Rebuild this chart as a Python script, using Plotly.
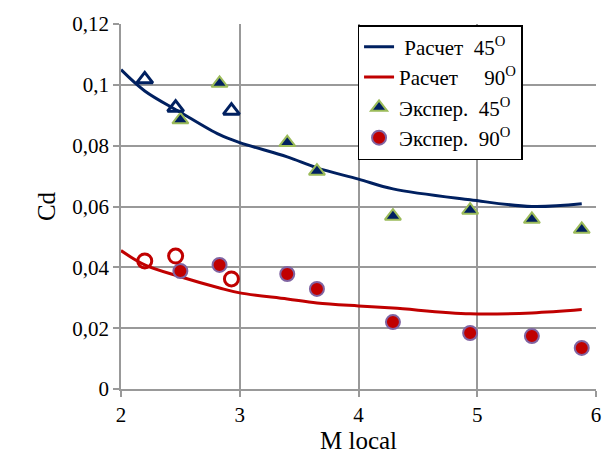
import plotly.graph_objects as go

# Calculated drag coefficient curves
calc_m = [2.0, 2.2, 2.5, 2.83, 3.0, 3.4, 3.65, 4.0, 4.29, 4.94, 5.46, 5.88]
calc_cd_45 = [0.105, 0.098, 0.091, 0.0836, 0.081, 0.0763, 0.0727, 0.069, 0.0658, 0.0622, 0.0600, 0.0609]
calc_cd_90 = [0.0455, 0.0408, 0.0369, 0.0332, 0.0316, 0.0296, 0.0283, 0.0273, 0.0266, 0.0247, 0.0250, 0.0261]

# Experimental points (filled markers)
exp_m = [2.5, 2.83, 3.4, 3.65, 4.29, 4.94, 5.46, 5.88]
exp_cd_45 = [0.0885, 0.1005, 0.081, 0.0716, 0.0568, 0.0588, 0.0558, 0.0525]
exp_cd_90 = [0.0388, 0.0408, 0.0378, 0.0329, 0.0220, 0.0184, 0.0174, 0.0135]

# Additional experimental points (open markers)
open_m = [2.2, 2.46, 2.93]
open_cd_45 = [0.1018, 0.0925, 0.0915]
open_cd_90 = [0.0421, 0.0437, 0.0362]

# Axis ranges and tick spacing
x_range = [2, 6]
x_step = 1
y_range = [0, 0.12]
y_step = 0.02

NAVY = "#002060"
RED = "#C00000"
GREEN = "#9BBB59"
PURPLE = "#8064A2"
NB = "\u00a0"

fig = go.Figure()

fig.add_trace(go.Scatter(
    x=calc_m, y=calc_cd_45, mode="lines", line=dict(color=NAVY, width=3, shape="spline"),
    name=NB + "Расчет" + NB * 2 + "45<sup>O</sup>"))
fig.add_trace(go.Scatter(
    x=calc_m, y=calc_cd_90, mode="lines", line=dict(color=RED, width=3, shape="spline"),
    name="Расчет" + NB * 5 + "90<sup>O</sup>"))
fig.add_trace(go.Scatter(
    x=exp_m, y=exp_cd_45, mode="markers",
    marker=dict(symbol="triangle-up", size=14, color=NAVY, line=dict(color=GREEN, width=2)),
    name="Экспер." + NB * 2 + "45<sup>O</sup>"))
fig.add_trace(go.Scatter(
    x=exp_m, y=exp_cd_90, mode="markers",
    marker=dict(symbol="circle", size=14, color=RED, line=dict(color=PURPLE, width=2)),
    name="Экспер." + NB * 2 + "90<sup>O</sup>"))
fig.add_trace(go.Scatter(
    x=open_m, y=open_cd_45, mode="markers", showlegend=False,
    marker=dict(symbol="triangle-up-open", size=14, color=NAVY, line=dict(color=NAVY, width=3))))
fig.add_trace(go.Scatter(
    x=open_m, y=open_cd_90, mode="markers", showlegend=False,
    marker=dict(symbol="circle-open", size=14, color=RED, line=dict(color=RED, width=3))))

fig.update_layout(
    width=608, height=458,
    margin=dict(l=121, r=7, t=24, b=69),
    paper_bgcolor="white", plot_bgcolor="white",
    separators=", ",
    font=dict(family="Liberation Serif", size=21, color="#000000"),
    showlegend=True,
    legend=dict(
        x=0.498, y=0.997, xanchor="left", yanchor="top",
        bgcolor="white", bordercolor="black", borderwidth=1.5,
    ),
)
fig.update_xaxes(
    range=x_range, tick0=x_range[0], dtick=x_step,
    showgrid=True, gridcolor="#999999", gridwidth=1.5,
    showline=True, linecolor="#999999", linewidth=1.5,
    ticks="outside", ticklen=6, tickcolor="#999999", tickwidth=1.5,
    zeroline=False, title_text="M local", title_standoff=0,
)
fig.update_yaxes(
    range=y_range, tick0=0, dtick=y_step,
    showgrid=True, gridcolor="#999999", gridwidth=1.5,
    showline=True, linecolor="#999999", linewidth=1.5,
    ticks="outside", ticklen=6, tickcolor="#999999", tickwidth=1.5,
    zeroline=False, title_text="Cd", title_standoff=10,
)

fig.write_html("out.html")
